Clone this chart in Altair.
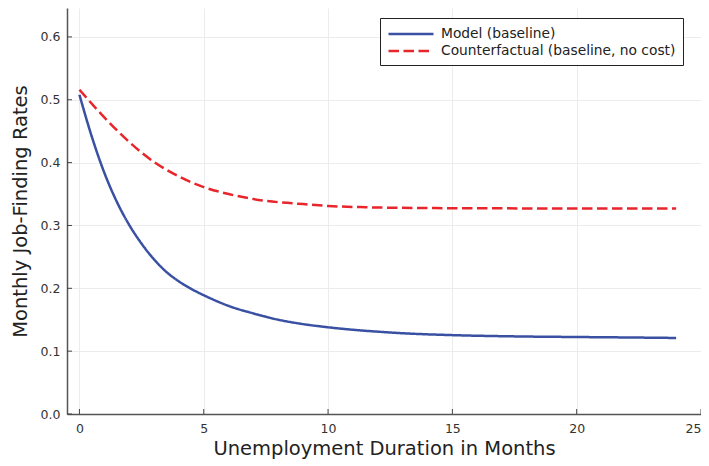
import altair as alt
import pandas as pd

series_names = ["Model (baseline)", "Counterfactual (baseline, no cost)"]
series_colors = ["#3a50a2", "#e8252b"]

model_months = [0, 0.5, 1.0, 1.5, 2.0, 2.5, 3.0, 3.5, 4.0, 4.5, 5.0, 5.5, 6.0, 7.0, 8.0, 9.0, 10,
                11, 12, 13, 15, 17.5, 20, 22, 24]
model_rates = [0.508, 0.441, 0.384, 0.338, 0.301, 0.271, 0.246, 0.226, 0.211, 0.199, 0.189, 0.180,
               0.172, 0.160, 0.150, 0.143, 0.138, 0.134, 0.131, 0.1285, 0.1255, 0.1235, 0.1225,
               0.1218, 0.121]

cf_months = [0, 1, 2, 3, 4, 5, 6, 7, 8, 9, 10, 11.5, 13, 15, 20, 24]
cf_rates = [0.516, 0.472, 0.433, 0.401, 0.378, 0.361, 0.350, 0.342, 0.337, 0.334, 0.331, 0.329,
            0.328, 0.3275, 0.327, 0.3268]

x_ticks = [0, 5, 10, 15, 20, 25]
y_ticks = [0.0, 0.1, 0.2, 0.3, 0.4, 0.5, 0.6]

df = pd.concat([
    pd.DataFrame({"month": model_months, "rate": model_rates, "series": series_names[0]}),
    pd.DataFrame({"month": cf_months, "rate": cf_rates, "series": series_names[1]}),
])

W, H = 634, 406
x_scale = alt.Scale(domain=[-0.5, 25], nice=False, zero=False)
y_scale = alt.Scale(domain=[0, 0.646], nice=False, zero=False)

lines = alt.Chart(df).mark_line(strokeWidth=2.5, interpolate="monotone", clip=True).encode(
    x=alt.X("month:Q", scale=x_scale,
            axis=alt.Axis(values=x_ticks, title="Unemployment Duration in Months",
                          labelPadding=8, titlePadding=5, labelFlush=True, labelFlushOffset=0)),
    y=alt.Y("rate:Q", scale=y_scale,
            axis=alt.Axis(values=y_ticks, format=".1f", title="Monthly Job-Finding Rates",
                          labelPadding=7, titlePadding=10, labelFlush=False)),
    color=alt.Color("series:N", title=None,
                    scale=alt.Scale(domain=series_names, range=series_colors)),
    strokeDash=alt.StrokeDash("series:N", title=None,
                              scale=alt.Scale(domain=series_names, range=[[1, 0], [10.5, 4.5]])),
    detail="series:N",
)

xt = alt.Chart(pd.DataFrame({"month": x_ticks})).mark_rule(color="#444", strokeWidth=1).encode(
    x=alt.X("month:Q", scale=x_scale), y=alt.value(H), y2=alt.value(H - 5)
)
yt = alt.Chart(pd.DataFrame({"rate": y_ticks})).mark_rule(color="#444", strokeWidth=1).encode(
    y=alt.Y("rate:Q", scale=y_scale), x=alt.value(0), x2=alt.value(5)
)

chart = alt.layer(lines, xt, yt).properties(
    width=W, height=H,
    padding={"left": 59, "top": 0, "right": 0, "bottom": 52},
    autosize=alt.AutoSizeParams(type="none"),
).configure_view(stroke=None).configure_axis(
    labelFont="DejaVu Sans", labelFontSize=12.5, labelColor="#333333",
    titleFont="DejaVu Sans", titleFontSize=19.5, titleFontWeight="normal", titleColor="#222222",
    gridColor="#ececec", gridWidth=1, domainColor="#555555", domainWidth=1.5, ticks=False,
).configure_legend(
    orient="none", legendX=313, legendY=10, strokeColor="#222222", fillColor="white",
    padding=7, symbolType="M-1,0H5", symbolSize=225, symbolStrokeWidth=2.5,
    labelFont="DejaVu Sans", labelFontSize=13.8, labelColor="#222222", labelOffset=36,
    labelLimit=400, rowPadding=1, cornerRadius=0, strokeWidth=1,
)

chart.save("out.html", embed_options={"renderer": "svg", "actions": False})
